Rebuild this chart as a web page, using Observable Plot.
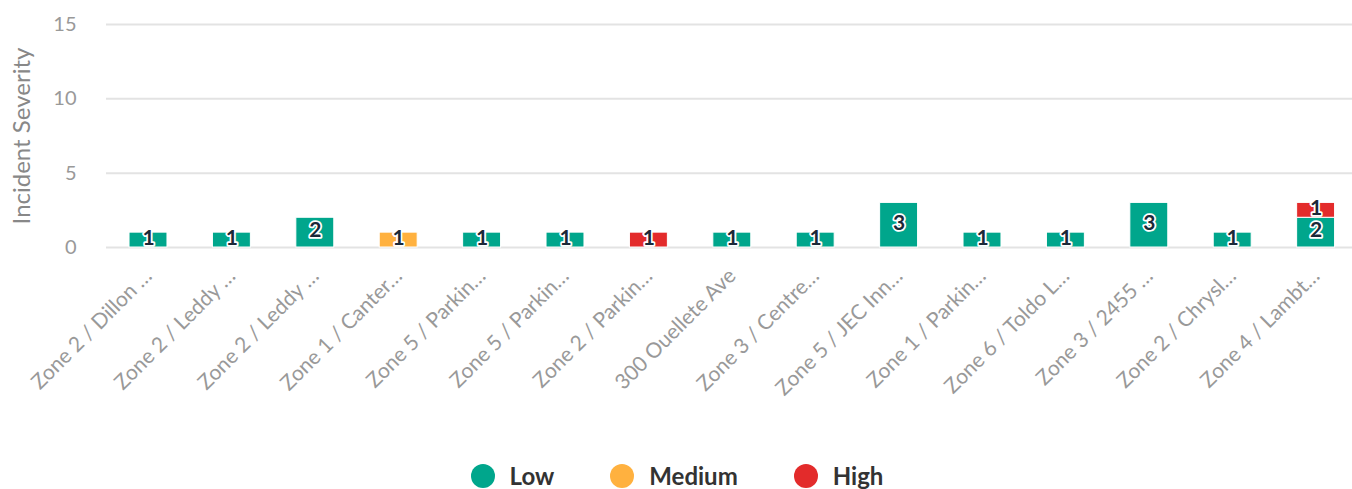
<!DOCTYPE html>
<html>
<head>
<meta charset="utf-8">
<script src="https://cdn.jsdelivr.net/npm/d3@7"></script>
<script src="https://cdn.jsdelivr.net/npm/@observablehq/plot@0.6"></script>
<style>
  html, body { margin: 0; padding: 0; background: #fff; }
  #chart svg { display: block; }
  #legend { display: flex; justify-content: center; align-items: center; gap: 56px; height: 49px; margin-top: 11px; font-family: Lato, sans-serif; font-weight: bold; font-size: 24px; color: #333; padding-left: 2px; box-sizing: border-box; }
  .item { display: flex; align-items: center; gap: 15px; }
  .dot { width: 24px; height: 24px; border-radius: 50%; display: inline-block; }
</style>
</head>
<body>
<div id="chart"></div>
<div id="legend"></div>
<script>
const categories = [
  "Zone 2 / Dillon …", "Zone 2 / Leddy …", "Zone 2 / Leddy …", "Zone 1 / Canter…",
  "Zone 5 / Parkin…", "Zone 5 / Parkin…", "Zone 2 / Parkin…", "300 Ouellete Ave",
  "Zone 3 / Centre…", "Zone 5 / JEC Inn…", "Zone 1 / Parkin…", "Zone 6 / Toldo L…",
  "Zone 3 / 2455 …", "Zone 2 / Chrysl…", "Zone 4 / Lambt…"
];
const low    = [1, 1, 2, 0, 1, 1, 0, 1, 1, 3, 1, 1, 3, 1, 2];
const medium = [0, 0, 0, 1, 0, 0, 0, 0, 0, 0, 0, 0, 0, 0, 0];
const high   = [0, 0, 0, 0, 0, 0, 1, 0, 0, 0, 0, 0, 0, 0, 1];
const severities = ["Low", "Medium", "High"];
const colors = ["#00a68c", "#ffb13f", "#e32b2b"];
const yTicks = [0, 5, 10, 15];
const yTitle = "Incident Severity";

const series = [low, medium, high];
const data = [];
categories.forEach((c, i) => {
  severities.forEach((s, k) => {
    if (series[k][i] > 0) data.push({i, cat: c, sev: s, v: series[k][i]});
  });
});
const idx = d3.range(categories.length);

const chart = Plot.plot({
  width: 1352,
  height: 440,
  marginLeft: 106,
  marginRight: 0,
  marginTop: 24,
  marginBottom: 193,
  style: {fontFamily: "Lato, sans-serif", background: "white"},
  x: {domain: idx, range: [106.3, 1357.3], paddingInner: 0.545, paddingOuter: 0.2725, round: false, axis: null},
  y: {domain: [0, 15], axis: null},
  color: {domain: severities, range: colors},
  marks: [
    Plot.ruleY(yTicks, {stroke: "#e3e3e3", strokeWidth: 2}),
    Plot.barY(data, {x: "i", y: "v", fill: "sev", z: "sev", stroke: "white", strokeWidth: 1}),
    Plot.text(data, Plot.stackY({x: "i", y: "v", z: "sev", text: d => String(d.v), dy: -2,
      fill: "#1b2838", stroke: "white", strokeWidth: 3.5, fontWeight: "bold", fontSize: 21})),
    Plot.text(yTicks, {y: d => d, text: d => String(d), frameAnchor: "left", dx: -30,
      textAnchor: "end", fill: "#999", fontSize: 20}),
    Plot.text(idx, {x: d => d, text: d => categories[d], frameAnchor: "bottom", dy: 25, dx: 0,
      rotate: -45, textAnchor: "end", lineAnchor: "middle", fill: "#999", fontSize: 21}),
    Plot.text([yTitle], {frameAnchor: "left", dx: -84, rotate: -90, textAnchor: "middle",
      fill: "#888", fontSize: 24})
  ]
});
document.getElementById("chart").appendChild(chart);

const legend = document.getElementById("legend");
severities.forEach((s, k) => {
  const item = document.createElement("div");
  item.className = "item";
  const dot = document.createElement("span");
  dot.className = "dot";
  dot.style.background = colors[k];
  const label = document.createElement("span");
  label.textContent = s;
  item.appendChild(dot);
  item.appendChild(label);
  legend.appendChild(item);
});
</script>
</body>
</html>
